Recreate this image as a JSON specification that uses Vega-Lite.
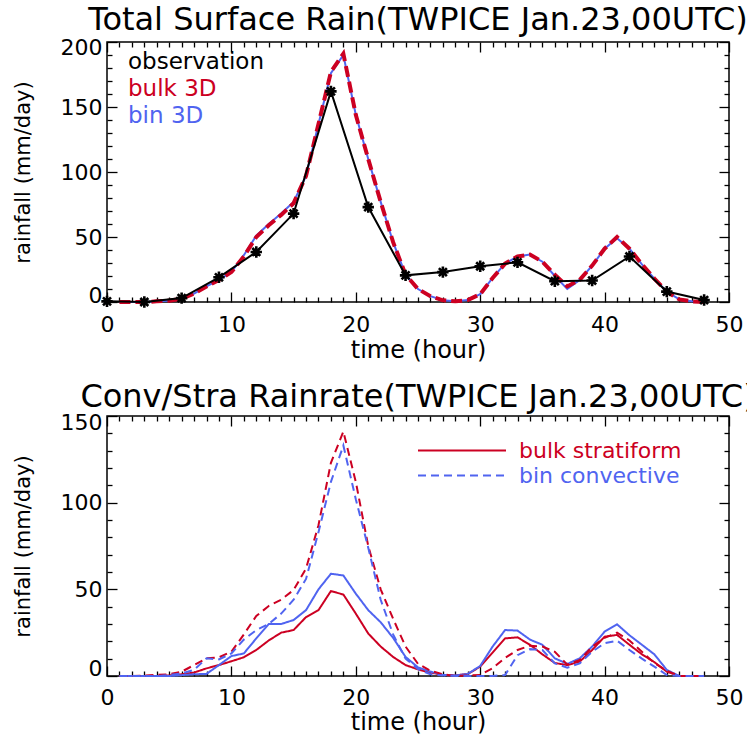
{
  "$schema": "https://vega.github.io/schema/vega-lite/v6.json",
  "background": "white",
  "padding": {"left": 11, "top": 3, "right": 0, "bottom": 8},
  "config": {
    "font": "DejaVu Sans",
    "view": {"stroke": "black", "strokeWidth": 1.5},
    "axis": {"domain": false, "grid": false, "tickColor": "black", "tickWidth": 1.3, "labelColor": "black", "titleColor": "black", "labelFontSize": 22, "titleFontWeight": "normal", "labelOverlap": false, "labelFlush": false, "labelBound": false},
    "title": {"fontWeight": "normal", "color": "black"}
  },
  "datasets": {
    "top": [
      {"s":"observation","t":0,"v":0.5},{"s":"observation","t":3,"v":0},{"s":"observation","t":6,"v":3},{"s":"observation","t":9,"v":19},{"s":"observation","t":12,"v":38.5},{"s":"observation","t":15,"v":68},{"s":"observation","t":18,"v":162},{"s":"observation","t":21,"v":73},{"s":"observation","t":24,"v":20.5},{"s":"observation","t":27,"v":23},{"s":"observation","t":30,"v":27.5},{"s":"observation","t":33,"v":30.5},{"s":"observation","t":36,"v":16},{"s":"observation","t":39,"v":16.5},{"s":"observation","t":42,"v":35},{"s":"observation","t":45,"v":8},{"s":"observation","t":48,"v":1.5},
      {"s":"bulk 3D","t":1,"v":0},{"s":"bulk 3D","t":2,"v":0},{"s":"bulk 3D","t":3,"v":0},{"s":"bulk 3D","t":4,"v":0.5},{"s":"bulk 3D","t":5,"v":1},{"s":"bulk 3D","t":6,"v":2.5},{"s":"bulk 3D","t":7,"v":6.5},{"s":"bulk 3D","t":8,"v":12},{"s":"bulk 3D","t":9,"v":17},{"s":"bulk 3D","t":10,"v":23},{"s":"bulk 3D","t":11,"v":35},{"s":"bulk 3D","t":12,"v":50},{"s":"bulk 3D","t":13,"v":59},{"s":"bulk 3D","t":14,"v":67},{"s":"bulk 3D","t":15,"v":76},{"s":"bulk 3D","t":16,"v":97},{"s":"bulk 3D","t":17,"v":137},{"s":"bulk 3D","t":18,"v":177},{"s":"bulk 3D","t":19,"v":191},{"s":"bulk 3D","t":20,"v":144},{"s":"bulk 3D","t":21,"v":110},{"s":"bulk 3D","t":22,"v":77},{"s":"bulk 3D","t":23,"v":46},{"s":"bulk 3D","t":24,"v":21},{"s":"bulk 3D","t":25,"v":10},{"s":"bulk 3D","t":26,"v":4.5},{"s":"bulk 3D","t":27,"v":1.3},{"s":"bulk 3D","t":28,"v":0.5},{"s":"bulk 3D","t":29,"v":1.5},{"s":"bulk 3D","t":30,"v":6},{"s":"bulk 3D","t":31,"v":18.5},{"s":"bulk 3D","t":32,"v":29.5},{"s":"bulk 3D","t":33,"v":35},{"s":"bulk 3D","t":34,"v":36.5},{"s":"bulk 3D","t":35,"v":31},{"s":"bulk 3D","t":36,"v":21},{"s":"bulk 3D","t":37,"v":12},{"s":"bulk 3D","t":38,"v":17},{"s":"bulk 3D","t":39,"v":28},{"s":"bulk 3D","t":40,"v":41},{"s":"bulk 3D","t":41,"v":50},{"s":"bulk 3D","t":42,"v":41},{"s":"bulk 3D","t":43,"v":29},{"s":"bulk 3D","t":44,"v":18},{"s":"bulk 3D","t":45,"v":8},{"s":"bulk 3D","t":46,"v":2},{"s":"bulk 3D","t":47,"v":0.5},{"s":"bulk 3D","t":48,"v":0},
      {"s":"bin 3D","t":1,"v":0},{"s":"bin 3D","t":2,"v":0},{"s":"bin 3D","t":3,"v":0},{"s":"bin 3D","t":4,"v":0.5},{"s":"bin 3D","t":5,"v":1},{"s":"bin 3D","t":6,"v":2.5},{"s":"bin 3D","t":7,"v":6.5},{"s":"bin 3D","t":8,"v":12},{"s":"bin 3D","t":9,"v":17},{"s":"bin 3D","t":10,"v":23},{"s":"bin 3D","t":11,"v":36},{"s":"bin 3D","t":12,"v":51},{"s":"bin 3D","t":13,"v":60},{"s":"bin 3D","t":14,"v":68},{"s":"bin 3D","t":15,"v":77},{"s":"bin 3D","t":16,"v":97},{"s":"bin 3D","t":17,"v":137},{"s":"bin 3D","t":18,"v":176},{"s":"bin 3D","t":19,"v":190},{"s":"bin 3D","t":20,"v":144},{"s":"bin 3D","t":21,"v":110},{"s":"bin 3D","t":22,"v":77},{"s":"bin 3D","t":23,"v":46},{"s":"bin 3D","t":24,"v":21},{"s":"bin 3D","t":25,"v":10},{"s":"bin 3D","t":26,"v":4.5},{"s":"bin 3D","t":27,"v":1.3},{"s":"bin 3D","t":28,"v":0.5},{"s":"bin 3D","t":29,"v":1.5},{"s":"bin 3D","t":30,"v":6},{"s":"bin 3D","t":31,"v":18.5},{"s":"bin 3D","t":32,"v":29.5},{"s":"bin 3D","t":33,"v":35},{"s":"bin 3D","t":34,"v":36.5},{"s":"bin 3D","t":35,"v":31},{"s":"bin 3D","t":36,"v":20},{"s":"bin 3D","t":37,"v":10},{"s":"bin 3D","t":38,"v":17},{"s":"bin 3D","t":39,"v":28},{"s":"bin 3D","t":40,"v":41},{"s":"bin 3D","t":41,"v":49},{"s":"bin 3D","t":42,"v":41},{"s":"bin 3D","t":43,"v":29},{"s":"bin 3D","t":44,"v":18},{"s":"bin 3D","t":45,"v":8},{"s":"bin 3D","t":46,"v":2},{"s":"bin 3D","t":47,"v":0.5},{"s":"bin 3D","t":48,"v":0}
    ],
    "bottom": [
      {"s":"bulk stratiform","t":1,"v":0},{"s":"bulk stratiform","t":2,"v":0},{"s":"bulk stratiform","t":3,"v":0},{"s":"bulk stratiform","t":4,"v":0},{"s":"bulk stratiform","t":5,"v":0.3},{"s":"bulk stratiform","t":6,"v":1},{"s":"bulk stratiform","t":7,"v":2},{"s":"bulk stratiform","t":8,"v":4.4},{"s":"bulk stratiform","t":9,"v":6.3},{"s":"bulk stratiform","t":10,"v":8.5},{"s":"bulk stratiform","t":11,"v":10.8},{"s":"bulk stratiform","t":12,"v":15},{"s":"bulk stratiform","t":13,"v":20.5},{"s":"bulk stratiform","t":14,"v":25},{"s":"bulk stratiform","t":15,"v":26.5},{"s":"bulk stratiform","t":16,"v":34},{"s":"bulk stratiform","t":17,"v":38},{"s":"bulk stratiform","t":18,"v":49},{"s":"bulk stratiform","t":19,"v":47},{"s":"bulk stratiform","t":20,"v":36},{"s":"bulk stratiform","t":21,"v":24.5},{"s":"bulk stratiform","t":22,"v":17},{"s":"bulk stratiform","t":23,"v":11},{"s":"bulk stratiform","t":24,"v":6.3},{"s":"bulk stratiform","t":25,"v":3.8},{"s":"bulk stratiform","t":26,"v":2},{"s":"bulk stratiform","t":27,"v":0.6},{"s":"bulk stratiform","t":28,"v":0.3},{"s":"bulk stratiform","t":29,"v":1.2},{"s":"bulk stratiform","t":30,"v":5.4},{"s":"bulk stratiform","t":31,"v":13.5},{"s":"bulk stratiform","t":32,"v":21.7},{"s":"bulk stratiform","t":33,"v":22.3},{"s":"bulk stratiform","t":34,"v":18},{"s":"bulk stratiform","t":35,"v":12.5},{"s":"bulk stratiform","t":36,"v":7.5},{"s":"bulk stratiform","t":37,"v":6.3},{"s":"bulk stratiform","t":38,"v":8.3},{"s":"bulk stratiform","t":39,"v":15},{"s":"bulk stratiform","t":40,"v":22.7},{"s":"bulk stratiform","t":41,"v":23.7},{"s":"bulk stratiform","t":42,"v":18},{"s":"bulk stratiform","t":43,"v":12.5},{"s":"bulk stratiform","t":44,"v":8},{"s":"bulk stratiform","t":45,"v":2.5},{"s":"bulk stratiform","t":46,"v":0},{"s":"bulk stratiform","t":47,"v":0},{"s":"bulk stratiform","t":48,"v":0},
      {"s":"bin stratiform","t":1,"v":0},{"s":"bin stratiform","t":2,"v":0},{"s":"bin stratiform","t":3,"v":0},{"s":"bin stratiform","t":4,"v":0},{"s":"bin stratiform","t":5,"v":0},{"s":"bin stratiform","t":6,"v":0.5},{"s":"bin stratiform","t":7,"v":1},{"s":"bin stratiform","t":8,"v":1.2},{"s":"bin stratiform","t":9,"v":6.3},{"s":"bin stratiform","t":10,"v":11.5},{"s":"bin stratiform","t":11,"v":13},{"s":"bin stratiform","t":12,"v":21.7},{"s":"bin stratiform","t":13,"v":30},{"s":"bin stratiform","t":14,"v":30},{"s":"bin stratiform","t":15,"v":32.3},{"s":"bin stratiform","t":16,"v":38},{"s":"bin stratiform","t":17,"v":50},{"s":"bin stratiform","t":18,"v":59},{"s":"bin stratiform","t":19,"v":58},{"s":"bin stratiform","t":20,"v":47.5},{"s":"bin stratiform","t":21,"v":38},{"s":"bin stratiform","t":22,"v":31},{"s":"bin stratiform","t":23,"v":22},{"s":"bin stratiform","t":24,"v":11},{"s":"bin stratiform","t":25,"v":5},{"s":"bin stratiform","t":26,"v":2.5},{"s":"bin stratiform","t":27,"v":0.6},{"s":"bin stratiform","t":28,"v":0.3},{"s":"bin stratiform","t":29,"v":1.2},{"s":"bin stratiform","t":30,"v":5.8},{"s":"bin stratiform","t":31,"v":17},{"s":"bin stratiform","t":32,"v":26.5},{"s":"bin stratiform","t":33,"v":26.2},{"s":"bin stratiform","t":34,"v":21},{"s":"bin stratiform","t":35,"v":18},{"s":"bin stratiform","t":36,"v":10.2},{"s":"bin stratiform","t":37,"v":7},{"s":"bin stratiform","t":38,"v":10.2},{"s":"bin stratiform","t":39,"v":17},{"s":"bin stratiform","t":40,"v":25.6},{"s":"bin stratiform","t":41,"v":29.8},{"s":"bin stratiform","t":42,"v":23.5},{"s":"bin stratiform","t":43,"v":18},{"s":"bin stratiform","t":44,"v":12.5},{"s":"bin stratiform","t":45,"v":3.5},{"s":"bin stratiform","t":46,"v":0},{"s":"bin stratiform","t":47,"v":0},{"s":"bin stratiform","t":48,"v":0},
      {"s":"bulk convective","t":1,"v":0},{"s":"bulk convective","t":2,"v":0},{"s":"bulk convective","t":3,"v":0.3},{"s":"bulk convective","t":4,"v":0.6},{"s":"bulk convective","t":5,"v":1},{"s":"bulk convective","t":6,"v":2.5},{"s":"bulk convective","t":7,"v":6.3},{"s":"bulk convective","t":8,"v":10.2},{"s":"bulk convective","t":9,"v":10.8},{"s":"bulk convective","t":10,"v":14},{"s":"bulk convective","t":11,"v":24},{"s":"bulk convective","t":12,"v":34.6},{"s":"bulk convective","t":13,"v":40.4},{"s":"bulk convective","t":14,"v":44},{"s":"bulk convective","t":15,"v":49.6},{"s":"bulk convective","t":16,"v":62},{"s":"bulk convective","t":17,"v":87},{"s":"bulk convective","t":18,"v":123},{"s":"bulk convective","t":19,"v":141},{"s":"bulk convective","t":20,"v":112},{"s":"bulk convective","t":21,"v":75},{"s":"bulk convective","t":22,"v":50},{"s":"bulk convective","t":23,"v":33},{"s":"bulk convective","t":24,"v":17},{"s":"bulk convective","t":25,"v":7},{"s":"bulk convective","t":26,"v":3},{"s":"bulk convective","t":27,"v":1},{"s":"bulk convective","t":28,"v":0},{"s":"bulk convective","t":29,"v":0.3},{"s":"bulk convective","t":30,"v":0.6},{"s":"bulk convective","t":31,"v":4.5},{"s":"bulk convective","t":32,"v":10.5},{"s":"bulk convective","t":33,"v":15},{"s":"bulk convective","t":34,"v":17.5},{"s":"bulk convective","t":35,"v":17},{"s":"bulk convective","t":36,"v":14},{"s":"bulk convective","t":37,"v":6.5},{"s":"bulk convective","t":38,"v":9.2},{"s":"bulk convective","t":39,"v":16.9},{"s":"bulk convective","t":40,"v":22},{"s":"bulk convective","t":41,"v":25},{"s":"bulk convective","t":42,"v":20.5},{"s":"bulk convective","t":43,"v":14},{"s":"bulk convective","t":44,"v":7.5},{"s":"bulk convective","t":45,"v":3},{"s":"bulk convective","t":46,"v":0},{"s":"bulk convective","t":47,"v":0},{"s":"bulk convective","t":48,"v":0},
      {"s":"bin convective","t":1,"v":0},{"s":"bin convective","t":2,"v":0},{"s":"bin convective","t":3,"v":0},{"s":"bin convective","t":4,"v":0},{"s":"bin convective","t":5,"v":0.5},{"s":"bin convective","t":6,"v":1.5},{"s":"bin convective","t":7,"v":3.5},{"s":"bin convective","t":8,"v":10.2},{"s":"bin convective","t":9,"v":9.6},{"s":"bin convective","t":10,"v":13},{"s":"bin convective","t":11,"v":21},{"s":"bin convective","t":12,"v":26.5},{"s":"bin convective","t":13,"v":30},{"s":"bin convective","t":14,"v":36},{"s":"bin convective","t":15,"v":44},{"s":"bin convective","t":16,"v":56},{"s":"bin convective","t":17,"v":83},{"s":"bin convective","t":18,"v":112},{"s":"bin convective","t":19,"v":133},{"s":"bin convective","t":20,"v":102},{"s":"bin convective","t":21,"v":74},{"s":"bin convective","t":22,"v":44},{"s":"bin convective","t":23,"v":24},{"s":"bin convective","t":24,"v":10},{"s":"bin convective","t":25,"v":4},{"s":"bin convective","t":26,"v":1},{"s":"bin convective","t":27,"v":0.3},{"s":"bin convective","t":28,"v":0},{"s":"bin convective","t":29,"v":0},{"s":"bin convective","t":30,"v":0},{"s":"bin convective","t":31,"v":0},{"s":"bin convective","t":32,"v":0.6},{"s":"bin convective","t":33,"v":12},{"s":"bin convective","t":34,"v":15.5},{"s":"bin convective","t":35,"v":15},{"s":"bin convective","t":36,"v":7.3},{"s":"bin convective","t":37,"v":4.8},{"s":"bin convective","t":38,"v":7.3},{"s":"bin convective","t":39,"v":14},{"s":"bin convective","t":40,"v":18.9},{"s":"bin convective","t":41,"v":20.4},{"s":"bin convective","t":42,"v":15},{"s":"bin convective","t":43,"v":10},{"s":"bin convective","t":44,"v":5.4},{"s":"bin convective","t":45,"v":0.6},{"s":"bin convective","t":46,"v":0},{"s":"bin convective","t":47,"v":0},{"s":"bin convective","t":48,"v":0}
    ]
  },
  "vconcat": [
    {
      "width": 622,
      "height": 260,
      "title": {"text": "Total Surface Rain(TWPICE Jan.23,00UTC)", "fontSize": 32, "offset": -1, "anchor": "middle"},
      "data": {"name": "top"},
      "resolve": {"axis": {"x": "independent", "y": "independent"}},
      "layer": [
        {
          "transform": [{"filter": "datum.s === 'bin 3D'"}],
          "mark": {"type": "line", "strokeWidth": 2},
          "encoding": {
            "x": {"field": "t", "type": "quantitative", "scale": {"domain": [0, 50], "nice": false, "zero": false},
              "axis": {"orient": "bottom", "title": "time (hour)", "titleFontSize": 24, "values": [0,1,2,3,4,5,6,7,8,9,10,11,12,13,14,15,16,17,18,19,20,21,22,23,24,25,26,27,28,29,30,31,32,33,34,35,36,37,38,39,40,41,42,43,44,45,46,47,48,49,50],
                "labelExpr": "datum.value % 10 === 0 ? datum.label : ''",
                "tickSize": {"condition": {"test": "datum.value % 10 === 0", "value": -10}, "value": -5},
                "labelPadding": 22, "titlePadding": -2}},
            "y": {"field": "v", "type": "quantitative", "scale": {"domain": [0, 200], "nice": false},
              "axis": {"orient": "left", "title": "rainfall (mm/day)", "titleFontSize": 21, "values": [0,10,20,30,40,50,60,70,80,90,100,110,120,130,140,150,160,170,180,190,200],
                "labelExpr": "datum.value % 50 === 0 ? datum.label : ''",
                "tickSize": {"condition": {"test": "datum.value % 50 === 0", "value": -10}, "value": -5},
                "labelFlush": true, "labelFlushOffset": 5,
                "labelPadding": 15, "titlePadding": 27}},
            "color": {"field": "s", "type": "nominal",
              "scale": {"domain": ["observation", "bulk 3D", "bin 3D"], "range": ["#000000", "#cc0022", "#5064f0"]},
              "legend": {"orient": "none", "legendX": -2, "legendY": 8, "title": null, "symbolOpacity": 0, "symbolSize": 0, "symbolStrokeWidth": 0, "labelFontSize": 23, "labelOffset": 0, "rowPadding": 3, "labelLimit": 0,
                "encode": {"labels": {"update": {"fill": {"signal": "datum.value === 'observation' ? '#000000' : datum.value === 'bulk 3D' ? '#cc0022' : '#5064f0'"}}}}}}
          }
        },
        {
          "transform": [{"filter": "datum.s === 'bulk 3D'"}],
          "mark": {"type": "line", "strokeWidth": 4, "strokeDash": [11, 5]},
          "encoding": {
            "x": {"field": "t", "type": "quantitative",
              "axis": {"orient": "top", "title": null, "labels": false, "values": [0,1,2,3,4,5,6,7,8,9,10,11,12,13,14,15,16,17,18,19,20,21,22,23,24,25,26,27,28,29,30,31,32,33,34,35,36,37,38,39,40,41,42,43,44,45,46,47,48,49,50],
                "tickSize": {"condition": {"test": "datum.value % 10 === 0", "value": -10}, "value": -5}}},
            "y": {"field": "v", "type": "quantitative",
              "axis": {"orient": "right", "title": null, "labels": false, "values": [0,10,20,30,40,50,60,70,80,90,100,110,120,130,140,150,160,170,180,190,200],
                "tickSize": {"condition": {"test": "datum.value % 50 === 0", "value": -10}, "value": -5}}},
            "color": {"field": "s", "type": "nominal"}
          }
        },
        {
          "transform": [{"filter": "datum.s === 'observation'"}],
          "mark": {"type": "line", "strokeWidth": 2},
          "encoding": {
            "x": {"field": "t", "type": "quantitative", "axis": null},
            "y": {"field": "v", "type": "quantitative", "axis": null},
            "color": {"field": "s", "type": "nominal"}
          }
        },
        {
          "transform": [{"filter": "datum.s === 'observation'"}],
          "mark": {"type": "point", "shape": "M-1,0L1,0M0,-1L0,1M-0.7,-0.7L0.7,0.7M-0.7,0.7L0.7,-0.7", "filled": false, "size": 130, "strokeWidth": 2.6, "color": "black", "opacity": 1},
          "encoding": {
            "x": {"field": "t", "type": "quantitative", "axis": null},
            "y": {"field": "v", "type": "quantitative", "axis": null}
          }
        }
      ]
    },
    {
      "width": 622,
      "height": 260,
      "title": {"text": "Conv/Stra Rainrate(TWPICE Jan.23,00UTC)", "fontSize": 32, "offset": -3, "anchor": "middle"},
      "data": {"name": "bottom"},
      "resolve": {"axis": {"x": "independent", "y": "independent"}},
      "layer": [
        {
          "mark": {"type": "line", "strokeWidth": 2},
          "encoding": {
            "x": {"field": "t", "type": "quantitative", "scale": {"domain": [0, 50], "nice": false, "zero": false},
              "axis": {"orient": "bottom", "title": "time (hour)", "titleFontSize": 24, "values": [0,1,2,3,4,5,6,7,8,9,10,11,12,13,14,15,16,17,18,19,20,21,22,23,24,25,26,27,28,29,30,31,32,33,34,35,36,37,38,39,40,41,42,43,44,45,46,47,48,49,50],
                "labelExpr": "datum.value % 10 === 0 ? datum.label : ''",
                "tickSize": {"condition": {"test": "datum.value % 10 === 0", "value": -10}, "value": -5},
                "labelPadding": 21, "titlePadding": -3}},
            "y": {"field": "v", "type": "quantitative", "scale": {"domain": [0, 150], "nice": false},
              "axis": {"orient": "left", "title": "rainfall (mm/day)", "titleFontSize": 21, "values": [0,10,20,30,40,50,60,70,80,90,100,110,120,130,140,150],
                "labelExpr": "datum.value % 50 === 0 ? datum.label : ''",
                "tickSize": {"condition": {"test": "datum.value % 50 === 0", "value": -10}, "value": -5},
                "labelFlush": true, "labelFlushOffset": 4,
                "labelPadding": 15, "titlePadding": 27}},
            "color": {"field": "s", "type": "nominal",
              "scale": {"domain": ["bulk stratiform", "bulk convective", "bin stratiform", "bin convective"], "range": ["#cc0022", "#cc0022", "#5064f0", "#5064f0"]},
              "legend": {"orient": "none", "legendX": 310, "legendY": 22, "title": null, "values": ["bulk stratiform", "bin convective"], "symbolType": "stroke", "symbolSize": 7744, "symbolStrokeWidth": 2, "clipHeight": 25, "labelFontSize": 22, "labelOffset": 12, "rowPadding": 0, "labelLimit": 0,
                "encode": {"labels": {"update": {"fill": {"signal": "datum.value === 'bulk stratiform' ? '#cc0022' : '#5064f0'"}}}}}},
            "strokeDash": {"field": "s", "type": "nominal",
              "scale": {"domain": ["bulk stratiform", "bulk convective", "bin stratiform", "bin convective"], "range": [[1, 0], [8, 5], [1, 0], [8, 5]]},
              "legend": {"orient": "none", "legendX": 310, "legendY": 22, "title": null, "values": ["bulk stratiform", "bin convective"], "symbolType": "stroke", "symbolSize": 7744, "symbolStrokeWidth": 2, "clipHeight": 25, "labelFontSize": 22, "labelOffset": 12, "rowPadding": 0, "labelLimit": 0,
                "encode": {"labels": {"update": {"fill": {"signal": "datum.value === 'bulk stratiform' ? '#cc0022' : '#5064f0'"}}}}}}
          }
        },
        {
          "mark": {"type": "line", "opacity": 0},
          "encoding": {
            "x": {"field": "t", "type": "quantitative",
              "axis": {"orient": "top", "title": null, "labels": false, "values": [0,1,2,3,4,5,6,7,8,9,10,11,12,13,14,15,16,17,18,19,20,21,22,23,24,25,26,27,28,29,30,31,32,33,34,35,36,37,38,39,40,41,42,43,44,45,46,47,48,49,50],
                "tickSize": {"condition": {"test": "datum.value % 10 === 0", "value": -10}, "value": -5}}},
            "y": {"field": "v", "type": "quantitative",
              "axis": {"orient": "right", "title": null, "labels": false, "values": [0,10,20,30,40,50,60,70,80,90,100,110,120,130,140,150],
                "tickSize": {"condition": {"test": "datum.value % 50 === 0", "value": -10}, "value": -5}}},
            "detail": {"field": "s", "type": "nominal"}
          }
        }
      ]
    }
  ],
  "spacing": 114,
  "bounds": "flush",
  "resolve": {"scale": {"color": "independent", "strokeDash": "independent"}, "legend": {"color": "independent", "strokeDash": "independent"}}
}
